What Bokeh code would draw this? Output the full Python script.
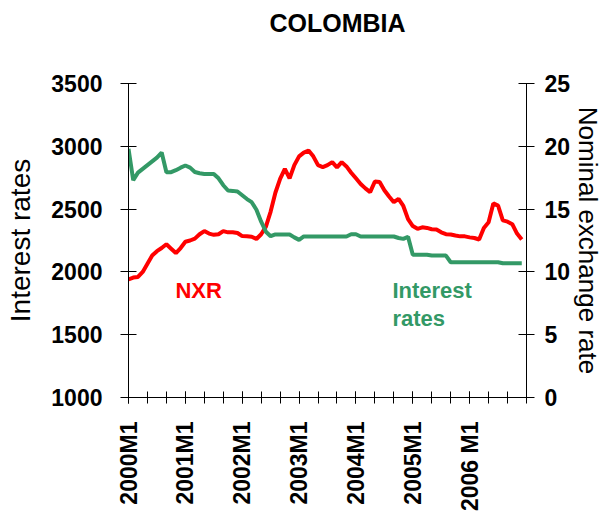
import numpy as np
from bokeh.plotting import figure
from bokeh.models import Range1d, LinearAxis, FixedTicker, Label, Title
from bokeh.embed import file_html
from bokeh.resources import INLINE

# monthly index 0 = 2000M1 ... 83 = 2006M12
nxr = [1940, 1955, 1960, 2000, 2065, 2130, 2165, 2190, 2220, 2185, 2150, 2190,
       2240, 2250, 2265, 2300, 2325, 2305, 2295, 2300, 2325, 2315, 2316, 2310,
       2285, 2284, 2280, 2262, 2300, 2360, 2480, 2630, 2740, 2820, 2745, 2850,
       2920, 2950, 2966, 2920, 2850, 2835, 2850, 2874, 2832, 2874, 2840, 2790,
       2745, 2700, 2665, 2635, 2720, 2715, 2650, 2600, 2555, 2581, 2525, 2420,
       2365, 2343, 2355, 2350, 2340, 2337, 2315, 2300, 2298, 2290, 2283, 2283,
       2275, 2270, 2258, 2350, 2395, 2545, 2528, 2410, 2400, 2380, 2305, 2258]

interest = [19.8, 17.3, 17.9, 18.2, 18.5, 18.8, 19.1, 19.5, 17.94, 17.94, 18.1, 18.3,
            18.47, 18.3, 17.95, 17.85, 17.8, 17.8, 17.8, 17.45, 16.9, 16.48, 16.45, 16.4,
            16.1, 15.8, 15.55, 14.95, 14.0, 13.2, 12.84, 12.98, 12.98, 12.98, 12.98, 12.75,
            12.55, 12.82, 12.82, 12.82, 12.82, 12.82, 12.82, 12.82, 12.82, 12.82, 12.82, 13.0,
            13.0, 12.82, 12.82, 12.82, 12.82, 12.82, 12.82, 12.82, 12.82, 12.7, 12.63, 12.8,
            11.36, 11.36, 11.36, 11.36, 11.3, 11.3, 11.3, 11.3, 10.77, 10.77, 10.77, 10.77,
            10.77, 10.77, 10.77, 10.77, 10.77, 10.77, 10.77, 10.69, 10.69, 10.69, 10.69, 10.69]

months = list(range(len(nxr)))
year_ticks = [0, 12, 24, 36, 48, 60, 72]
year_labels = ["2000M1", "2001M1", "2002M1", "2003M1", "2004M1", "2005M1", "2006 M1"]
minor_x = list(range(0, 85, 4))
left_ticks = [1000, 1500, 2000, 2500, 3000, 3500]
right_ticks = [0, 5, 10, 15, 20, 25]

FONT = "Liberation Sans"
RED = "#FF0000"
GREEN = "#339966"

p = figure(frame_width=398, frame_height=314, output_backend="svg", toolbar_location=None,
           x_range=Range1d(0, 84), y_range=Range1d(1000, 3500),
           min_border_left=128, min_border_right=77, min_border_top=83,
           min_border_bottom=118)
p.outline_line_color = None
p.xgrid.visible = False
p.ygrid.visible = False
p.background_fill_color = "white"
p.border_fill_color = "white"

p.extra_y_ranges = {"rate": Range1d(0, 25)}

p.line(months, nxr, line_color=RED, line_width=4)
p.line(months, interest, line_color=GREEN, line_width=4, y_range_name="rate")

# x axis
xa = p.xaxis[0]
xa.ticker = FixedTicker(ticks=year_ticks, minor_ticks=minor_x)
xa.major_label_overrides = {t: l for t, l in zip(year_ticks, year_labels)}
xa.major_label_orientation = np.pi / 2
xa.major_label_text_font = FONT
xa.major_label_text_font_style = "bold"
xa.major_label_text_font_size = "23px"
xa.major_label_text_color = "black"
xa.major_label_standoff = 18
xa.major_tick_in = 6
xa.major_tick_out = 6
xa.minor_tick_in = 6
xa.minor_tick_out = 6
xa.axis_line_color = "black"
xa.major_tick_line_color = "black"
xa.minor_tick_line_color = "black"

# left axis
ya = p.yaxis[0]
ya.ticker = FixedTicker(ticks=left_ticks)
ya.minor_tick_line_color = None
ya.major_tick_in = 8
ya.major_tick_out = 8
ya.axis_line_color = "black"
ya.major_tick_line_color = "black"
ya.major_label_text_font = FONT
ya.major_label_text_font_style = "bold"
ya.major_label_text_font_size = "23px"
ya.major_label_text_color = "black"
ya.major_label_standoff = 18
ya.axis_label = "Interest rates"
ya.axis_label_text_font = FONT
ya.axis_label_text_font_style = "normal"
ya.axis_label_text_font_size = "28px"
ya.axis_label_text_color = "black"
ya.axis_label_standoff = 12

# right axis
ra = LinearAxis(y_range_name="rate", ticker=FixedTicker(ticks=right_ticks))
ra.minor_tick_line_color = None
ra.major_tick_in = 8
ra.major_tick_out = 8
ra.axis_line_color = "black"
ra.major_tick_line_color = "black"
ra.major_label_text_font = FONT
ra.major_label_text_font_style = "bold"
ra.major_label_text_font_size = "23px"
ra.major_label_text_color = "black"
ra.major_label_standoff = 10
ra.axis_label = "Nominal exchange rate"
ra.axis_label_text_font = FONT
ra.axis_label_text_font_style = "normal"
ra.axis_label_text_font_size = "26px"
ra.axis_label_text_color = "black"
ra.axis_label_standoff = 0
p.add_layout(ra, "right")

# spacer panel next to the frame, then the chart title above it
p.add_layout(Title(text=" ", text_font_size="10px", standoff=24), "above")
p.add_layout(Title(text="COLOMBIA", align="left", offset=141, vertical_align="top",
                   text_font=FONT, text_font_style="bold", text_font_size="25px",
                   text_color="black", standoff=15), "above")

p.add_layout(Label(x=9.9, y=1852, text="NXR", text_color=RED, text_font=FONT,
                   text_font_style="bold", text_font_size="22px",
                   text_baseline="alphabetic"))
p.add_layout(Label(x=55.7, y=1852, text="Interest", text_color=GREEN, text_font=FONT,
                   text_font_style="bold", text_font_size="22px",
                   text_baseline="alphabetic"))
p.add_layout(Label(x=55.7, y=1627, text="rates", text_color=GREEN, text_font=FONT,
                   text_font_style="bold", text_font_size="22px",
                   text_baseline="alphabetic"))

open("out.html", "w").write(file_html(p, INLINE))
